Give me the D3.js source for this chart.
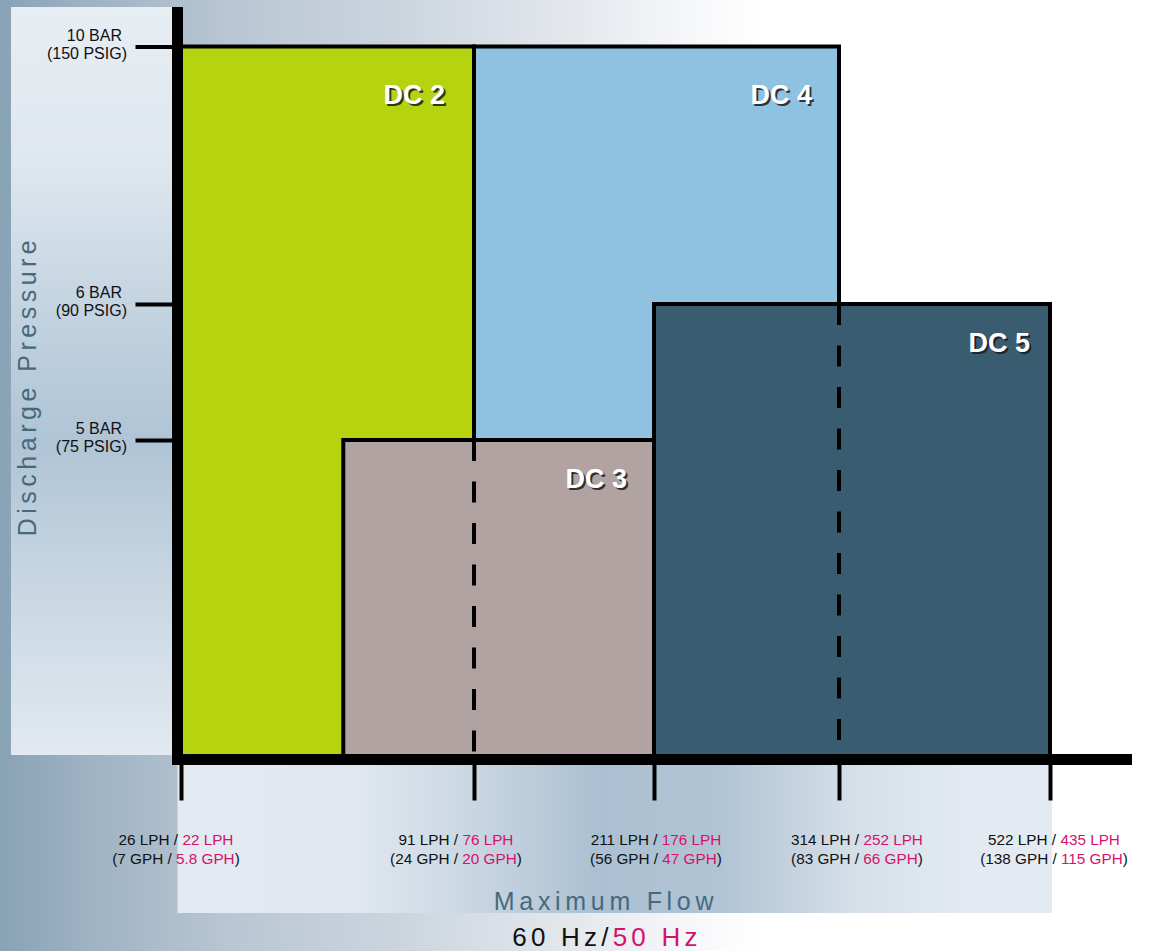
<!DOCTYPE html>
<html>
<head>
<meta charset="utf-8">
<script src="https://cdn.jsdelivr.net/npm/d3@7/dist/d3.min.js"></script>
<style>
  html, body { margin: 0; padding: 0; background: #ffffff; }
  svg { display: block; font-family: "Liberation Sans", Arial, sans-serif; }
</style>
</head>
<body>
<svg id="chart" width="1151" height="951"></svg>
<script>
// ---------------- DATA ----------------
const flowLPH60 = [26, 91, 211, 314, 522];
const flowLPH50 = [22, 76, 176, 252, 435];
const flowGPH60 = ["7", "24", "56", "83", "138"];
const flowGPH50 = ["5.8", "20", "47", "66", "115"];

const pressureBar  = [10, 6, 5];
const pressurePsig = [150, 90, 75];

const models       = ["DC 2", "DC 3", "DC 4", "DC 5"];
const modelMinFlow = [26, 62, 91, 211];     // LPH (60 Hz)
const modelMaxFlow = [91, 211, 314, 522];   // LPH (60 Hz)
const modelMaxBar  = [10, 5, 10, 6];        // bar

// ---------------- LAYOUT ----------------
const W = 1151, H = 951;
const axisX = 177.5, axisY = 759.5;
const labelShift = [-5, -18, 2, 18, 4];
const nameInset = [29, 27, 27, 20];
const modelColor = d3.scaleOrdinal()
  .domain(models)
  .range(["#b5d30f", "#b2a3a3", "#8fc1e0", "#3a5c70"]);
const magenta = "#d4126c";
const titleColor = "#46697d";

const svg = d3.select("#chart");

// piecewise scales (chart uses non-uniform spacing)
const x = d3.scaleLinear()
  .domain(flowLPH60)
  .range([181, 474, 654, 839, 1050]);
const y = d3.scaleLinear()
  .domain([0, 5, 6, 10])
  .range([axisY, 440, 304, 46.5]);

// ---------------- BACKGROUND ----------------
const defs = svg.append("defs");
const bg = defs.append("linearGradient").attr("id", "bgGrad")
  .attr("x1", 0).attr("x2", 1).attr("y1", 0).attr("y2", 0);
[[0, "#88a2b6"], [0.08, "#9fb3c4"], [0.2, "#b9c6d3"], [0.35, "#ccd5de"],
 [0.5, "#e4e8ed"], [0.6, "#f6f7f9"], [0.66, "#ffffff"], [1, "#ffffff"]]
  .forEach(([o, c]) => bg.append("stop").attr("offset", o).attr("stop-color", c));

const lp = defs.append("linearGradient").attr("id", "leftPanel")
  .attr("x1", 0).attr("x2", 0).attr("y1", 0).attr("y2", 1);
[[0, "#e6edf3"], [0.2, "#e0e8ef"], [0.4, "#c4d4e1"], [0.58, "#afc4d5"],
 [0.78, "#c9d7e3"], [1, "#e2e9f0"]]
  .forEach(([o, c]) => lp.append("stop").attr("offset", o).attr("stop-color", c));

const bp = defs.append("linearGradient").attr("id", "bottomPanel")
  .attr("x1", 0).attr("x2", 1).attr("y1", 0).attr("y2", 0);
[[0, "#e3eaf1"], [0.2, "#e1e8ef"], [0.34, "#c9d6e2"], [0.48, "#abc0d2"],
 [0.62, "#b1c4d4"], [0.78, "#d6e0e9"], [0.9, "#e3eaf1"], [1, "#e3eaf1"]]
  .forEach(([o, c]) => bp.append("stop").attr("offset", o).attr("stop-color", c));

svg.append("rect").attr("width", W).attr("height", H).attr("fill", "url(#bgGrad)");
svg.append("rect").attr("x", 11).attr("y", 7).attr("width", axisX - 11).attr("height", 748)
  .attr("fill", "url(#leftPanel)");
svg.append("rect").attr("x", axisX).attr("y", 765).attr("width", 1052 - axisX).attr("height", 148)
  .attr("fill", "url(#bottomPanel)");

// ---------------- RECTANGLES ----------------
const boxes = models.map((m, i) => ({
  name: m, min: modelMinFlow[i], max: modelMaxFlow[i], top: modelMaxBar[i], inset: nameInset[i]
}));
const drawOrder = boxes.slice().sort((a, b) => b.top - a.top);

svg.append("g").selectAll("rect")
  .data(drawOrder)
  .join("rect")
  .attr("x", d => x(d.min))
  .attr("y", d => y(d.top))
  .attr("width", d => x(d.max) - x(d.min))
  .attr("height", d => y(0) - y(d.top))
  .attr("fill", d => modelColor(d.name))
  .attr("stroke", "#000")
  .attr("stroke-width", 4);

// hidden edges (covered by lower boxes) drawn dashed
const hidden = [];
drawOrder.forEach((b, i) => {
  drawOrder.slice(0, i).forEach(a => {
    [a.min, a.max].forEach(e => {
      if (e > b.min && e < b.max && !hidden.some(h => h.flow === e))
        hidden.push({ flow: e, top: b.top });
    });
  });
});
svg.append("g").selectAll("line")
  .data(hidden)
  .join("line")
  .attr("x1", d => x(d.flow)).attr("x2", d => x(d.flow))
  .attr("y1", d => y(d.top)).attr("y2", y(0) - 4)
  .attr("stroke", "#000").attr("stroke-width", 4)
  .attr("stroke-dasharray", "21,20.5");

// model labels
const lbl = svg.append("g").selectAll("g")
  .data(boxes)
  .join("g")
  .attr("transform", d => `translate(${x(d.max) - d.inset},${y(d.top) + (d.top >= 10 ? 57 : 48)})`);
lbl.append("text")
  .attr("x", 2).attr("y", 2)
  .attr("text-anchor", "end")
  .attr("font-size", 27).attr("font-weight", "bold")
  .attr("fill", "#1a1a1a").attr("fill-opacity", 0.85)
  .text(d => d.name);
lbl.append("text")
  .attr("text-anchor", "end")
  .attr("font-size", 27).attr("font-weight", "bold")
  .attr("fill", "#ffffff")
  .text(d => d.name);

// ---------------- AXES ----------------
const xAxis = d3.axisBottom(x).tickValues(flowLPH60).tickSize(41).tickFormat("");
const gx = svg.append("g").attr("transform", `translate(0,${axisY})`).call(xAxis);
gx.select(".domain").remove();
gx.selectAll(".tick line").attr("stroke", "#000").attr("stroke-width", 4);

const yAxis = d3.axisLeft(y).tickValues(pressureBar).tickSize(42).tickFormat("");
const gy = svg.append("g").attr("transform", `translate(${axisX},0)`).call(yAxis);
gy.select(".domain").remove();
gy.selectAll(".tick line").attr("stroke", "#000").attr("stroke-width", 4);

// thick axis lines
svg.append("line").attr("x1", axisX).attr("x2", axisX).attr("y1", 7).attr("y2", axisY + 5.5)
  .attr("stroke", "#000").attr("stroke-width", 11);
svg.append("line").attr("x1", axisX - 5.5).attr("x2", 1132).attr("y1", axisY).attr("y2", axisY)
  .attr("stroke", "#000").attr("stroke-width", 11);

// y tick labels
const yl = svg.append("g").selectAll("g")
  .data(pressureBar)
  .join("g")
  .attr("transform", d => `translate(0,${y(d)})`)
  .attr("font-size", 16).attr("fill", "#111");
yl.append("text").attr("x", 122).attr("y", -6).attr("text-anchor", "end")
  .text(d => `${d} BAR`);
yl.append("text").attr("x", 127).attr("y", 12).attr("text-anchor", "end")
  .text((d, i) => `(${pressurePsig[i]} PSIG)`);

// x tick labels
const xl = svg.append("g").selectAll("g")
  .data(flowLPH60)
  .join("g")
  .attr("transform", (d, i) => `translate(${x(d) + labelShift[i]},${axisY})`)
  .attr("font-size", 15.3).attr("fill", "#111").attr("text-anchor", "middle");
const l1 = xl.append("text").attr("y", 85.5);
l1.append("tspan").text(d => `${d} LPH / `);
l1.append("tspan").attr("fill", magenta).text((d, i) => `${flowLPH50[i]} LPH`);
const l2 = xl.append("text").attr("y", 104.5);
l2.append("tspan").text((d, i) => `(${flowGPH60[i]} GPH / `);
l2.append("tspan").attr("fill", magenta).text((d, i) => `${flowGPH50[i]} GPH`);
l2.append("tspan").text(")");

// axis titles
svg.append("text")
  .attr("transform", "translate(36,386) rotate(-90)")
  .attr("text-anchor", "middle")
  .attr("font-size", 25).attr("letter-spacing", 4.5)
  .attr("fill", titleColor)
  .text("Discharge Pressure");

svg.append("text")
  .attr("x", 606).attr("y", 910)
  .attr("text-anchor", "middle")
  .attr("font-size", 25).attr("letter-spacing", 4.7)
  .attr("fill", titleColor)
  .text("Maximum Flow");

const hz = svg.append("text")
  .attr("x", 607).attr("y", 946)
  .attr("text-anchor", "middle")
  .attr("font-size", 26).attr("letter-spacing", 4.2)
  .attr("fill", "#111");
hz.append("tspan").text("60 Hz/");
hz.append("tspan").attr("fill", magenta).text("50 Hz");
</script>
</body>
</html>
